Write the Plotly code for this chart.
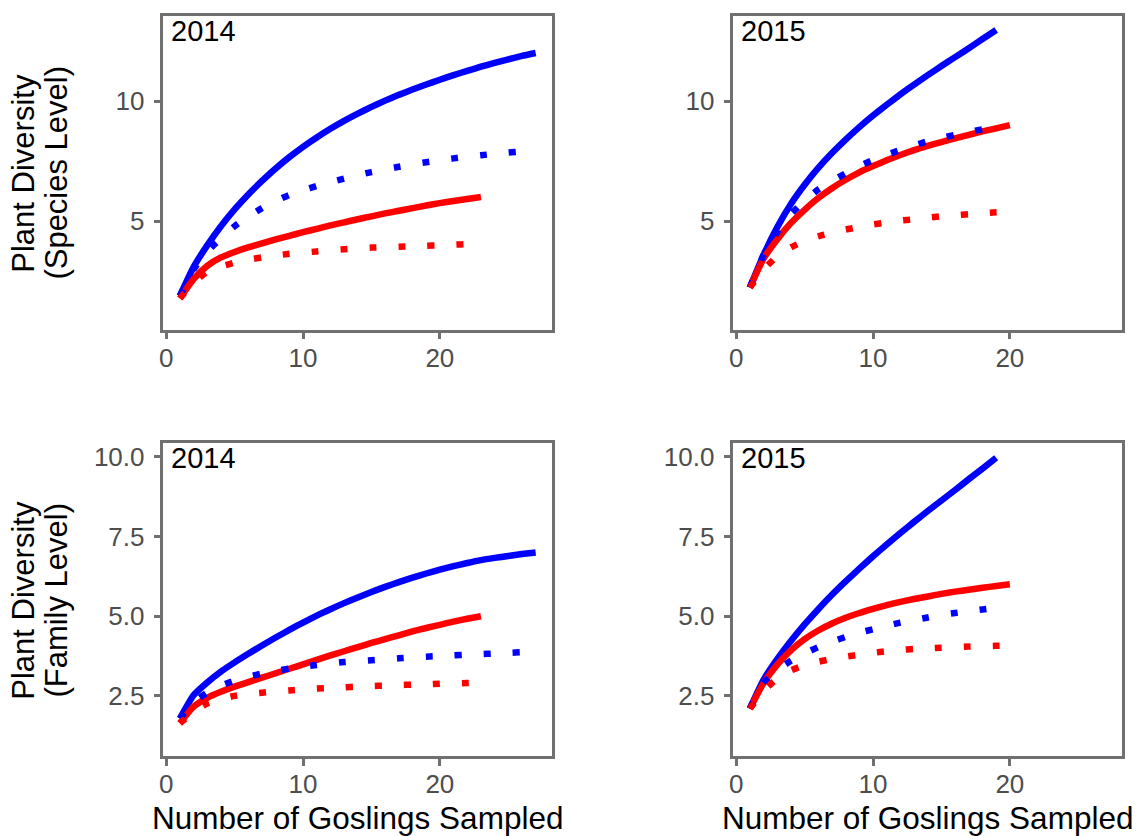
import plotly.graph_objects as go

BLUE = "#0000FF"
RED = "#FF0000"
AXIS_GREY = "#707070"
TICK_GREY = "#4D4D4D"
FONT = "Liberation Sans, Arial, sans-serif"

# Number of goslings sampled
n_blue_2014 = list(range(1, 28))
n_red_2014 = list(range(1, 24))
n_blue_2015 = list(range(1, 20))
n_red_2015 = list(range(1, 21))

# Species level, 2014
sp14_blue_solid = [1.9, 3.1, 4.0, 4.8, 5.5, 6.12, 6.68, 7.2, 7.67, 8.1, 8.49, 8.85, 9.18, 9.48,
                   9.76, 10.02, 10.26, 10.48, 10.69, 10.89, 11.08, 11.26, 11.43, 11.59, 11.74, 11.88, 12.0]
sp14_blue_dot = [1.9, 3.0, 3.75, 4.3, 4.8, 5.2, 5.55, 5.85, 6.1, 6.3, 6.47, 6.63, 6.78, 6.92,
                 7.05, 7.16, 7.27, 7.37, 7.46, 7.54, 7.62, 7.69, 7.75, 7.81, 7.86, 7.91, 7.95]
sp14_red_solid = [1.8, 2.6, 3.15, 3.5, 3.73, 3.92, 4.09, 4.25, 4.4, 4.55, 4.69, 4.83, 4.96, 5.09,
                  5.21, 5.33, 5.44, 5.55, 5.66, 5.76, 5.85, 5.93, 6.01]
sp14_red_dot = [1.8, 2.45, 2.9, 3.12, 3.28, 3.41, 3.5, 3.58, 3.65, 3.7, 3.75, 3.8, 3.84, 3.88,
                3.91, 3.93, 3.95, 3.97, 3.99, 4.01, 4.03, 4.05, 4.06]

# Species level, 2015
sp15_blue_solid = [2.25, 3.6, 4.75, 5.72, 6.52, 7.22, 7.84, 8.4, 8.92, 9.4, 9.85, 10.28, 10.69, 11.08,
                   11.46, 11.83, 12.2, 12.58, 12.96]
sp15_blue_dot = [2.25, 3.6, 4.55, 5.3, 5.85, 6.33, 6.68, 7.0, 7.3, 7.55, 7.77, 7.97, 8.16, 8.33,
                 8.47, 8.6, 8.72, 8.83, 8.93]
sp15_red_solid = [2.25, 3.45, 4.25, 4.93, 5.48, 5.97, 6.38, 6.73, 7.04, 7.3, 7.54, 7.76, 7.96, 8.14,
                  8.3, 8.45, 8.6, 8.74, 8.87, 9.0]
sp15_red_dot = [2.25, 3.0, 3.55, 3.92, 4.18, 4.38, 4.53, 4.66, 4.77, 4.87, 4.95, 5.03, 5.09, 5.15,
                5.21, 5.26, 5.3, 5.34, 5.38, 5.41]

# Family level, 2014
fam14_blue_solid = [1.79, 2.52, 2.92, 3.26, 3.55, 3.82, 4.08, 4.33, 4.57, 4.8, 5.02, 5.22, 5.41, 5.59,
                    5.76, 5.92, 6.07, 6.21, 6.34, 6.46, 6.57, 6.67, 6.76, 6.83, 6.89, 6.95, 7.0]
fam14_blue_dot = [1.79, 2.3, 2.6, 2.82, 2.98, 3.1, 3.2, 3.28, 3.36, 3.42, 3.47, 3.52, 3.56, 3.59,
                  3.62, 3.65, 3.68, 3.71, 3.73, 3.75, 3.77, 3.79, 3.81, 3.83, 3.85, 3.87, 3.88]
fam14_red_solid = [1.64, 2.16, 2.44, 2.63, 2.79, 2.93, 3.07, 3.21, 3.35, 3.49, 3.63, 3.77, 3.9, 4.03,
                   4.16, 4.28, 4.4, 4.52, 4.63, 4.73, 4.83, 4.92, 5.0]
fam14_red_dot = [1.64, 2.0, 2.26, 2.4, 2.5, 2.56, 2.6, 2.64, 2.67, 2.7, 2.73, 2.75, 2.77, 2.79,
                 2.81, 2.82, 2.84, 2.85, 2.86, 2.88, 2.89, 2.9, 2.91]

# Family level, 2015
fam15_blue_solid = [2.1, 3.0, 3.65, 4.22, 4.74, 5.22, 5.67, 6.09, 6.49, 6.88, 7.25, 7.61, 7.96, 8.3,
                    8.63, 8.96, 9.3, 9.63, 9.97]
fam15_blue_dot = [2.1, 2.9, 3.3, 3.6, 3.83, 4.03, 4.2, 4.35, 4.48, 4.59, 4.7, 4.8, 4.88, 4.96,
                  5.04, 5.1, 5.16, 5.21, 5.26]
fam15_red_solid = [2.1, 2.9, 3.48, 3.93, 4.28, 4.55, 4.77, 4.95, 5.1, 5.23, 5.35, 5.45, 5.54, 5.62,
                   5.7, 5.77, 5.83, 5.89, 5.95, 6.0]
fam15_red_dot = [2.1, 2.65, 3.05, 3.3, 3.46, 3.57, 3.66, 3.73, 3.79, 3.85, 3.9, 3.94, 3.97, 3.99,
                 4.01, 4.03, 4.05, 4.06, 4.07, 4.08]

x_ticks = [0, 10, 20]
species_ticks = [5, 10]
species_labels = ["5", "10"]
family_ticks = [2.5, 5.0, 7.5, 10.0]
family_labels = ["2.5", "5.0", "7.5", "10.0"]
years = ["2014", "2015", "2014", "2015"]
x_title = "Number of Goslings Sampled"
y_titles = [("Plant Diversity", "(Species Level)"), ("Plant Diversity", "(Family Level)")]

W, H = 1139, 836
LINE_W = 6.5
DOT_DASH = "7px,22px"

panels = [
    # (axis suffix, blue x, red x, blue solid, red solid, blue dotted, red dotted)
    ("", n_blue_2014, n_red_2014, sp14_blue_solid, sp14_red_solid, sp14_blue_dot, sp14_red_dot),
    ("2", n_blue_2015, n_red_2015, sp15_blue_solid, sp15_red_solid, sp15_blue_dot, sp15_red_dot),
    ("3", n_blue_2014, n_red_2014, fam14_blue_solid, fam14_red_solid, fam14_blue_dot, fam14_red_dot),
    ("4", n_blue_2015, n_red_2015, fam15_blue_solid, fam15_red_solid, fam15_blue_dot, fam15_red_dot),
]

fig = go.Figure()
for suf, xb, xr, bs, rs, bd, rd in panels:
    common = dict(xaxis="x" + suf, yaxis="y" + suf, mode="lines", showlegend=False, hoverinfo="skip")
    spline = dict(width=LINE_W, shape="spline", smoothing=0.5)
    fig.add_trace(go.Scatter(x=xb, y=bs, line=dict(color=BLUE, **spline), **common))
    fig.add_trace(go.Scatter(x=xr, y=rs, line=dict(color=RED, **spline), **common))
    fig.add_trace(go.Scatter(x=xb, y=bd, line=dict(color=BLUE, dash=DOT_DASH, **spline), **common))
    fig.add_trace(go.Scatter(x=xr, y=rd, line=dict(color=RED, dash=DOT_DASH, **spline), **common))

# panel geometry in pixels
left_px = (160, 550)
right_px = (732, 1122)
top_px = (15, 329)
bottom_px = (443, 756)


def xdom(px):
    return [px[0] / W, px[1] / W]


def ydom(px):
    return [1 - px[1] / H, 1 - px[0] / H]


axis_style = dict(
    showline=True, mirror=True, linecolor=AXIS_GREY, linewidth=2.5,
    ticks="outside", ticklen=7, tickwidth=2.5, tickcolor=AXIS_GREY,
    showgrid=False, zeroline=False, fixedrange=True,
    tickfont=dict(family=FONT, size=26, color=TICK_GREY),
)

x_range = [-0.2, 28.2]
species_range = [0.5, 13.54]
family_range = [0.61, 10.42]

layout_axes = {}
specs = [
    ("", left_px, top_px, species_range, species_ticks, species_labels, years[0]),
    ("2", right_px, top_px, species_range, species_ticks, species_labels, years[1]),
    ("3", left_px, bottom_px, family_range, family_ticks, family_labels, years[2]),
    ("4", right_px, bottom_px, family_range, family_ticks, family_labels, years[3]),
]
for suf, xpx, ypx, yrange, yt, ytl, _ in specs:
    layout_axes["xaxis" + suf] = dict(
        domain=xdom(xpx), range=x_range, anchor="y" + suf, ticklabelstandoff=-4,
        tickvals=x_ticks, ticktext=[str(v) for v in x_ticks], **axis_style)
    layout_axes["yaxis" + suf] = dict(
        domain=ydom(ypx), range=yrange, anchor="x" + suf, ticklabelstandoff=4,
        tickvals=yt, ticktext=ytl, **axis_style)

annotations = []
# year label in the upper-left corner of each panel
for suf, xpx, ypx, *_, yr in specs:
    annotations.append(dict(
        text=yr, xref="x" + suf + " domain", yref="y" + suf + " domain",
        x=0.014, y=1.0, xanchor="left", yanchor="top", yshift=3, showarrow=False,
        font=dict(family=FONT, size=29, color="black")))

# x-axis titles under the bottom row
for xpx in (left_px, right_px):
    annotations.append(dict(
        text=x_title, xref="paper", yref="paper",
        x=(xpx[0] + xpx[1]) / 2 / W, y=1 - 798 / H, xanchor="center", yanchor="top",
        showarrow=False, font=dict(family=FONT, size=31.5, color="black")))

# two-line y-axis titles for each row
for (line1, line2), ypx in zip(y_titles, (top_px, bottom_px)):
    yc = 1 - (ypx[0] + ypx[1]) / 2 / H
    for text, xc in ((line1, 20), (line2, 53)):
        annotations.append(dict(
            text=text, xref="paper", yref="paper", x=xc / W, y=yc,
            xanchor="center", yanchor="middle", textangle=-90, showarrow=False,
            font=dict(family=FONT, size=31, color="black")))

fig.update_layout(
    width=W, height=H, margin=dict(l=0, r=0, t=0, b=0),
    paper_bgcolor="white", plot_bgcolor="white",
    annotations=annotations, **layout_axes)

fig.write_html("out.html", config={"displayModeBar": False})
